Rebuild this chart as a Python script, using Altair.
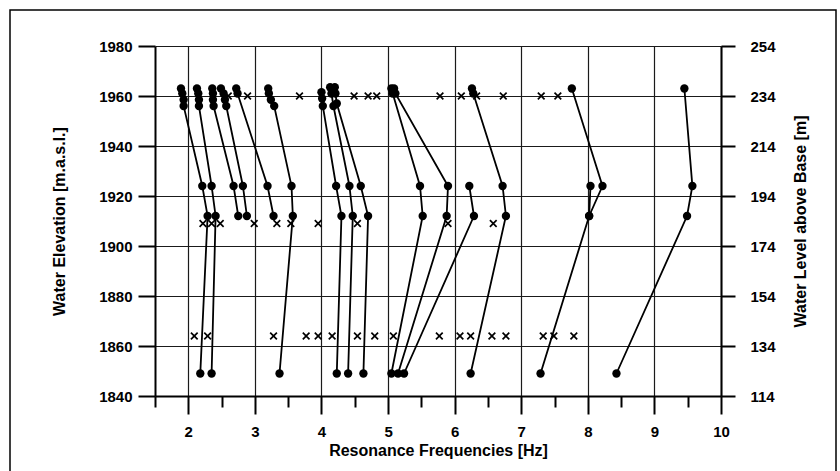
import altair as alt
import pandas as pd

# Axis ticks
FREQ_MAJOR = [2, 3, 4, 5, 6, 7, 8, 9, 10]
FREQ_MINOR = [1.5, 2.5, 3.5, 4.5, 5.5, 6.5, 7.5, 8.5, 9.5]
ELEV_TICKS = [1840, 1860, 1880, 1900, 1920, 1940, 1960, 1980]
LEVEL_TICKS = [114, 134, 154, 174, 194, 214, 234, 254]

# Resonance frequencies [Hz] of each traced mode with the water elevation [m a.s.l.]
MODE_1_FREQ = [1.89, 1.91, 1.93, 1.93, 2.21, 2.29, 2.18]
MODE_1_ELEV = [1963, 1961, 1958.5, 1956, 1924, 1912, 1849]
MODE_2_FREQ = [2.13, 2.15, 2.16, 2.16, 2.35, 2.41, 2.35]
MODE_2_ELEV = [1963, 1961, 1958.5, 1956, 1924, 1912, 1849]
MODE_3_FREQ = [2.36, 2.37, 2.37, 2.38, 2.68, 2.75]
MODE_3_ELEV = [1963, 1961, 1958.5, 1956, 1924, 1912]
MODE_4_FREQ = [2.49, 2.53, 2.55, 2.57, 2.82, 2.88]
MODE_4_ELEV = [1963, 1961, 1958.5, 1956, 1924, 1912]
MODE_5_FREQ = [2.72, 2.74, 3.19, 3.28]
MODE_5_ELEV = [1963, 1961, 1924, 1912]
MODE_6_FREQ = [3.20, 3.21, 3.24, 3.29, 3.55, 3.57, 3.37]
MODE_6_ELEV = [1963, 1961, 1958.5, 1956, 1924, 1912, 1849]
MODE_7_FREQ = [4.00, 4.01, 4.02, 4.22, 4.30, 4.23]
MODE_7_ELEV = [1961.5, 1959, 1956, 1924, 1912, 1849]
MODE_8_FREQ = [4.13, 4.15, 4.18, 4.42, 4.47, 4.40]
MODE_8_ELEV = [1963.5, 1961, 1956, 1924, 1912, 1849]
MODE_9_FREQ = [4.20, 4.21, 4.23, 4.59, 4.70, 4.63]
MODE_9_ELEV = [1963.5, 1961, 1957, 1924, 1912, 1849]
MODE_10_FREQ = [5.05, 5.07, 5.48, 5.52, 5.05]
MODE_10_ELEV = [1963, 1961, 1924, 1912, 1849]
MODE_11_FREQ = [5.09, 5.11, 5.90, 5.88, 5.15]
MODE_11_ELEV = [1963, 1961, 1924, 1912, 1849]
MODE_12_FREQ = [6.22, 6.29, 5.24]
MODE_12_ELEV = [1924, 1912, 1849]
MODE_13_FREQ = [6.26, 6.28, 6.72, 6.77, 6.24]
MODE_13_ELEV = [1963, 1961, 1924, 1912, 1849]
MODE_14_FREQ = [7.76, 8.22, 8.02, 7.29]
MODE_14_ELEV = [1963, 1924, 1912, 1849]
MODE_15_FREQ = [8.04, 8.02]
MODE_15_ELEV = [1924, 1912]
MODE_16_FREQ = [9.45, 9.57, 9.49, 8.43]
MODE_16_ELEV = [1963, 1924, 1912, 1849]

# Further spectral peaks (crosses) at three reservoir levels
PEAK_ELEV = [1960, 1909, 1864]
PEAK_1960_FREQ = [2.60, 2.89, 3.67, 4.49, 4.70, 4.83, 5.78, 6.10, 6.33, 6.73, 7.30, 7.55]
PEAK_1909_FREQ = [2.22, 2.35, 2.48, 2.99, 3.33, 3.54, 3.95, 4.54, 5.90, 6.58]
PEAK_1864_FREQ = [2.09, 2.29, 3.28, 3.77, 3.95, 4.16, 4.54, 4.80, 5.08, 5.77,
                  6.08, 6.24, 6.56, 6.77, 7.33, 7.49, 7.79]

modes = [
    (MODE_1_FREQ, MODE_1_ELEV), (MODE_2_FREQ, MODE_2_ELEV), (MODE_3_FREQ, MODE_3_ELEV),
    (MODE_4_FREQ, MODE_4_ELEV), (MODE_5_FREQ, MODE_5_ELEV), (MODE_6_FREQ, MODE_6_ELEV),
    (MODE_7_FREQ, MODE_7_ELEV), (MODE_8_FREQ, MODE_8_ELEV), (MODE_9_FREQ, MODE_9_ELEV),
    (MODE_10_FREQ, MODE_10_ELEV), (MODE_11_FREQ, MODE_11_ELEV), (MODE_12_FREQ, MODE_12_ELEV),
    (MODE_13_FREQ, MODE_13_ELEV), (MODE_14_FREQ, MODE_14_ELEV), (MODE_15_FREQ, MODE_15_ELEV),
    (MODE_16_FREQ, MODE_16_ELEV),
]
mode_rows = []
for m, (freqs, elevs) in enumerate(modes, start=1):
    for k, (f, e) in enumerate(zip(freqs, elevs)):
        mode_rows.append({"mode": m, "step": k, "freq": f, "elev": e})
mode_df = pd.DataFrame(mode_rows)

peak_rows = []
for elev, freqs in zip(PEAK_ELEV, [PEAK_1960_FREQ, PEAK_1909_FREQ, PEAK_1864_FREQ]):
    for f in freqs:
        peak_rows.append({"freq": f, "elev": elev})
peak_df = pd.DataFrame(peak_rows)

level_df = pd.DataFrame({"level": LEVEL_TICKS})

FONT = "Liberation Sans"

x_scale = alt.Scale(domain=[1.5, 10], nice=False, zero=False)
y_scale = alt.Scale(domain=[1840, 1980], nice=False, zero=False)

x_axis = alt.Axis(
    values=sorted(FREQ_MAJOR + FREQ_MINOR),
    title="Resonance Frequencies [Hz]",
    labelExpr="datum.value % 1 === 0 ? format(datum.value, 'd') : ''",
    labelFlush=False,
    labelOverlap=False,
    tickSize={"condition": {"test": "datum.value % 1 === 0", "value": 18}, "value": 11},
    gridOpacity={"condition": {"test": "datum.value % 1 === 0", "value": 1}, "value": 0},
    grid=True,
    labelPadding=10,
    titlePadding=3,
)
y_axis = alt.Axis(
    values=ELEV_TICKS,
    format="d",
    title="Water Elevation [m.a.s.l.]",
    grid=True,
    tickSize=17,
    labelPadding=6,
    titlePadding=31,
    labelOverlap=False,
)
right_axis = alt.Axis(
    values=LEVEL_TICKS,
    format="d",
    orient="right",
    title="Water Level above Base [m]",
    titleAngle=270,
    grid=False,
    tickSize=14,
    labelPadding=15,
    titlePadding=33,
    labelOverlap=False,
)

X = alt.X("freq:Q", scale=x_scale, axis=x_axis)
Y = alt.Y("elev:Q", scale=y_scale, axis=y_axis)

lines = alt.Chart(mode_df).mark_line(color="black", strokeWidth=1.8).encode(
    x=X, y=Y, detail="mode:N", order="step:Q"
)
dots = alt.Chart(mode_df).mark_circle(color="black", size=70, opacity=1).encode(x=X, y=Y)
crosses = alt.Chart(peak_df).mark_point(
    shape="M-1,-1L1,1M-1,1L1,-1", size=45, filled=False, color="black",
    strokeWidth=1.7, opacity=1,
).encode(x=X, y=Y)

# outer border of the figure
border = alt.Chart(pd.DataFrame({"b": [0]})).mark_rect(
    fillOpacity=0, stroke="black", strokeWidth=1.5
).encode(x=alt.value(-145), x2=alt.value(681), y=alt.value(-36), y2=alt.value(440))

main = alt.layer(border, lines, dots, crosses)

right = alt.Chart(level_df).mark_point(opacity=0).encode(
    y=alt.Y("level:Q", scale=alt.Scale(domain=[114, 254], nice=False, zero=False), axis=right_axis)
)

chart = (
    alt.layer(main, right)
    .resolve_scale(y="independent")
    .properties(
        width=566,
        height=350,
        autosize=alt.AutoSizeParams(type="none"),
        padding={"left": 155, "top": 46, "right": 119, "bottom": 75},
        background="white",
    )
    .configure_view(strokeWidth=0)
    .configure_axis(
        labelFont=FONT, labelFontSize=15, labelFontWeight="bold", labelColor="black",
        titleFont=FONT, titleFontSize=16, titleFontWeight="bold", titleColor="black",
        domainColor="black", domainWidth=2,
        tickColor="black", tickWidth=2,
        gridColor="#1a1a1a", gridWidth=1.2,
    )
)

chart.save("out.html", embed_options={"renderer": "svg", "actions": False})
